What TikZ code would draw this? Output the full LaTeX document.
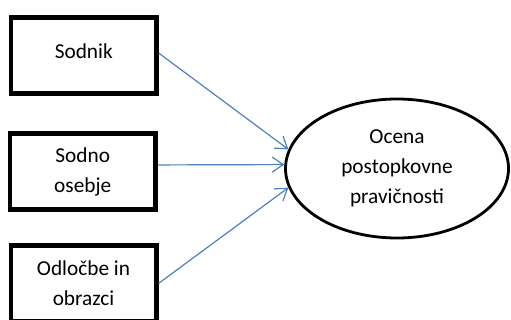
\documentclass[tikz,border=0pt]{standalone}
\usepackage{fontspec}
\setmainfont{Carlito}
\usetikzlibrary{shapes.geometric,arrows.meta}

\definecolor{arrowblue}{HTML}{4F81BD}

\begin{document}
\begin{tikzpicture}[x=1pt,y=-1pt,
  box/.style={draw,line width=4.5pt,minimum width=145.5pt,minimum height=76pt,
    inner sep=0pt,align=center,font=\fontsize{21.3}{30}\selectfont},
  goal/.style={draw,ellipse,line width=2.8pt,minimum width=223pt,minimum height=139pt,
    inner sep=0pt,align=center,font=\fontsize{21.3}{30}\selectfont},
  link/.style={draw=arrowblue,line width=1.2pt,-{Straight Barb[length=11pt,width=15pt]}}]
\useasboundingbox (0,0) rectangle (511,320);
\clip (0,0) rectangle (511,320);
\fill[white] (0,0) rectangle (511,320);
% left column
\node[box,text depth=10pt] (sodnik) at (83.75,55.75) {Sodnik};
\node[box] (osebje) at (82.75,171.5) {Sodno\\osebje};
\node[box] (odlocbe) at (83.5,283.5) {Odločbe in\\obrazci};
% right
\node[goal] (ocena) at (397,168.5) {Ocena\\postopkovne\\pravičnosti};
% arrows
\draw[link] (sodnik.2) -- (ocena.170);
\draw[link] (osebje.5) -- (ocena.178);
\draw[link] (odlocbe.east) -- (ocena.190);
\end{tikzpicture}
\end{document}
